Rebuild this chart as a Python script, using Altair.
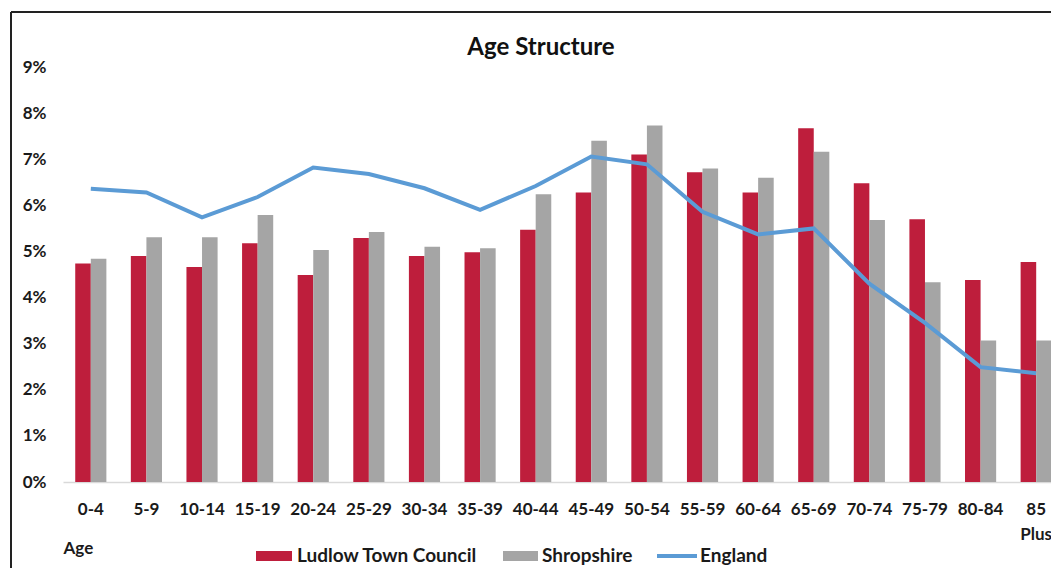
import altair as alt
import pandas as pd

categories = ["0-4", "5-9", "10-14", "15-19", "20-24", "25-29", "30-34", "35-39",
              "40-44", "45-49", "50-54", "55-59", "60-64", "65-69", "70-74", "75-79",
              "80-84", "85 Plus"]
ludlow = [4.74, 4.90, 4.66, 5.18, 4.49, 5.29, 4.90, 4.98, 5.47, 6.28, 7.10, 6.72,
          6.28, 7.67, 6.48, 5.70, 4.38, 4.77]
shropshire = [4.84, 5.31, 5.31, 5.79, 5.03, 5.42, 5.10, 5.07, 6.24, 7.40, 7.73, 6.80,
              6.60, 7.16, 5.68, 4.33, 3.07, 3.07]
england = [6.36, 6.28, 5.74, 6.18, 6.82, 6.68, 6.37, 5.90, 6.42, 7.06, 6.89, 5.86,
           5.37, 5.50, 4.30, 3.45, 2.49, 2.36]
series_names = ["Ludlow Town Council", "Shropshire", "England"]
y_ticks = [0, 1, 2, 3, 4, 5, 6, 7, 8, 9]
chart_title = "Age Structure"

RED = "#BE1E3C"
GRAY = "#A5A5A5"
BLUE = "#5B9BD5"
FONT = "Lato"
TXT = "#1a1a1a"

bars_df = pd.DataFrame(
    [{"age": c, "series": series_names[0], "value": v} for c, v in zip(categories, ludlow)]
    + [{"age": c, "series": series_names[1], "value": v} for c, v in zip(categories, shropshire)]
)
line_df = pd.DataFrame({"age": categories, "value": england})

x_scale = alt.Scale(domain=categories, range=[0, 1001], paddingInner=0.44, paddingOuter=0.22)
y_scale = alt.Scale(domain=[0, 9], nice=False)

x_axis = alt.Axis(
    title="Age", titleAnchor="start", titleAlign="left", titleBaseline="alphabetic",
    titleX=0, titleY=71, titleFont=FONT, titleFontSize=17, titleFontWeight="bold",
    titleColor=TXT,
    labelAngle=0, labelFont=FONT, labelFontSize=17, labelFontWeight="bold",
    labelColor=TXT, labelPadding=19, labelLineHeight=25,
    labelExpr="datum.value == '85 Plus' ? ['85', 'Plus'] : datum.value",
    ticks=False, tickSize=0, domainColor="#D9D9D9", domainWidth=1.5, grid=False,
)
y_axis = alt.Axis(
    title=None, values=y_ticks, labelExpr="datum.value + '%'",
    labelFont=FONT, labelFontSize=17, labelFontWeight="bold", labelColor=TXT,
    labelPadding=17, ticks=False, tickSize=0, domain=False, grid=False,
)

bars = alt.Chart(bars_df).mark_bar().encode(
    x=alt.X("age:N", scale=x_scale, axis=x_axis, sort=categories),
    xOffset=alt.XOffset("series:N", scale=alt.Scale(domain=series_names[:2], paddingInner=0, paddingOuter=0)),
    y=alt.Y("value:Q", scale=y_scale, axis=y_axis),
    color=alt.Color("series:N", scale=alt.Scale(domain=series_names[:2], range=[RED, GRAY]), legend=None),
)

line = alt.Chart(line_df).mark_line(color=BLUE, strokeWidth=4).encode(
    x=alt.X("age:N", scale=x_scale, sort=categories),
    y=alt.Y("value:Q", scale=y_scale),
)

one = alt.Data(values=[{}])

# outer frame of the chart area
frame_top = alt.Chart(one).mark_rule(color="#222222", strokeWidth=2).encode(
    x=alt.value(-52), x2=alt.value(1100), y=alt.value(-55))
frame_left = alt.Chart(one).mark_rule(color="#222222", strokeWidth=2).encode(
    x=alt.value(-52), y=alt.value(-55), y2=alt.value(600))

title_mark = alt.Chart(one).mark_text(align="center", baseline="alphabetic", font=FONT,
                                      fontSize=24, fontWeight="bold", color="#111111").encode(
    x=alt.value(478), y=alt.value(-12), text=alt.value(chart_title))

# legend
LFS = 19
leg_red = alt.Chart(one).mark_rect(color=RED).encode(
    x=alt.value(193), x2=alt.value(229), y=alt.value(484), y2=alt.value(494))
leg_red_t = alt.Chart(one).mark_text(align="left", baseline="middle", font=FONT, fontSize=LFS,
                                     fontWeight="bold", color=TXT).encode(
    x=alt.value(234), y=alt.value(489), text=alt.value(series_names[0]))
leg_gray = alt.Chart(one).mark_rect(color=GRAY).encode(
    x=alt.value(440), x2=alt.value(475), y=alt.value(484), y2=alt.value(494))
leg_gray_t = alt.Chart(one).mark_text(align="left", baseline="middle", font=FONT, fontSize=LFS,
                                      fontWeight="bold", color=TXT).encode(
    x=alt.value(479), y=alt.value(489), text=alt.value(series_names[1]))
leg_blue = alt.Chart(one).mark_rule(color=BLUE, strokeWidth=4).encode(
    x=alt.value(594), x2=alt.value(634), y=alt.value(489))
leg_blue_t = alt.Chart(one).mark_text(align="left", baseline="middle", font=FONT, fontSize=LFS,
                                      fontWeight="bold", color=TXT).encode(
    x=alt.value(637), y=alt.value(489), text=alt.value(series_names[2]))

chart = alt.layer(
    bars, line, frame_top, frame_left, title_mark,
    leg_red, leg_red_t, leg_gray, leg_gray_t, leg_blue, leg_blue_t,
).properties(
    width=988, height=415,
    autosize=alt.AutoSizeParams(type="none"),
    padding={"left": 55, "top": 59, "right": 0, "bottom": 86},
    view=alt.ViewBackground(stroke="transparent", strokeWidth=0),
).configure_view(stroke="transparent", strokeWidth=0).configure(background="white")

chart.save("out.html", embed_options={"renderer": "svg", "actions": False})
